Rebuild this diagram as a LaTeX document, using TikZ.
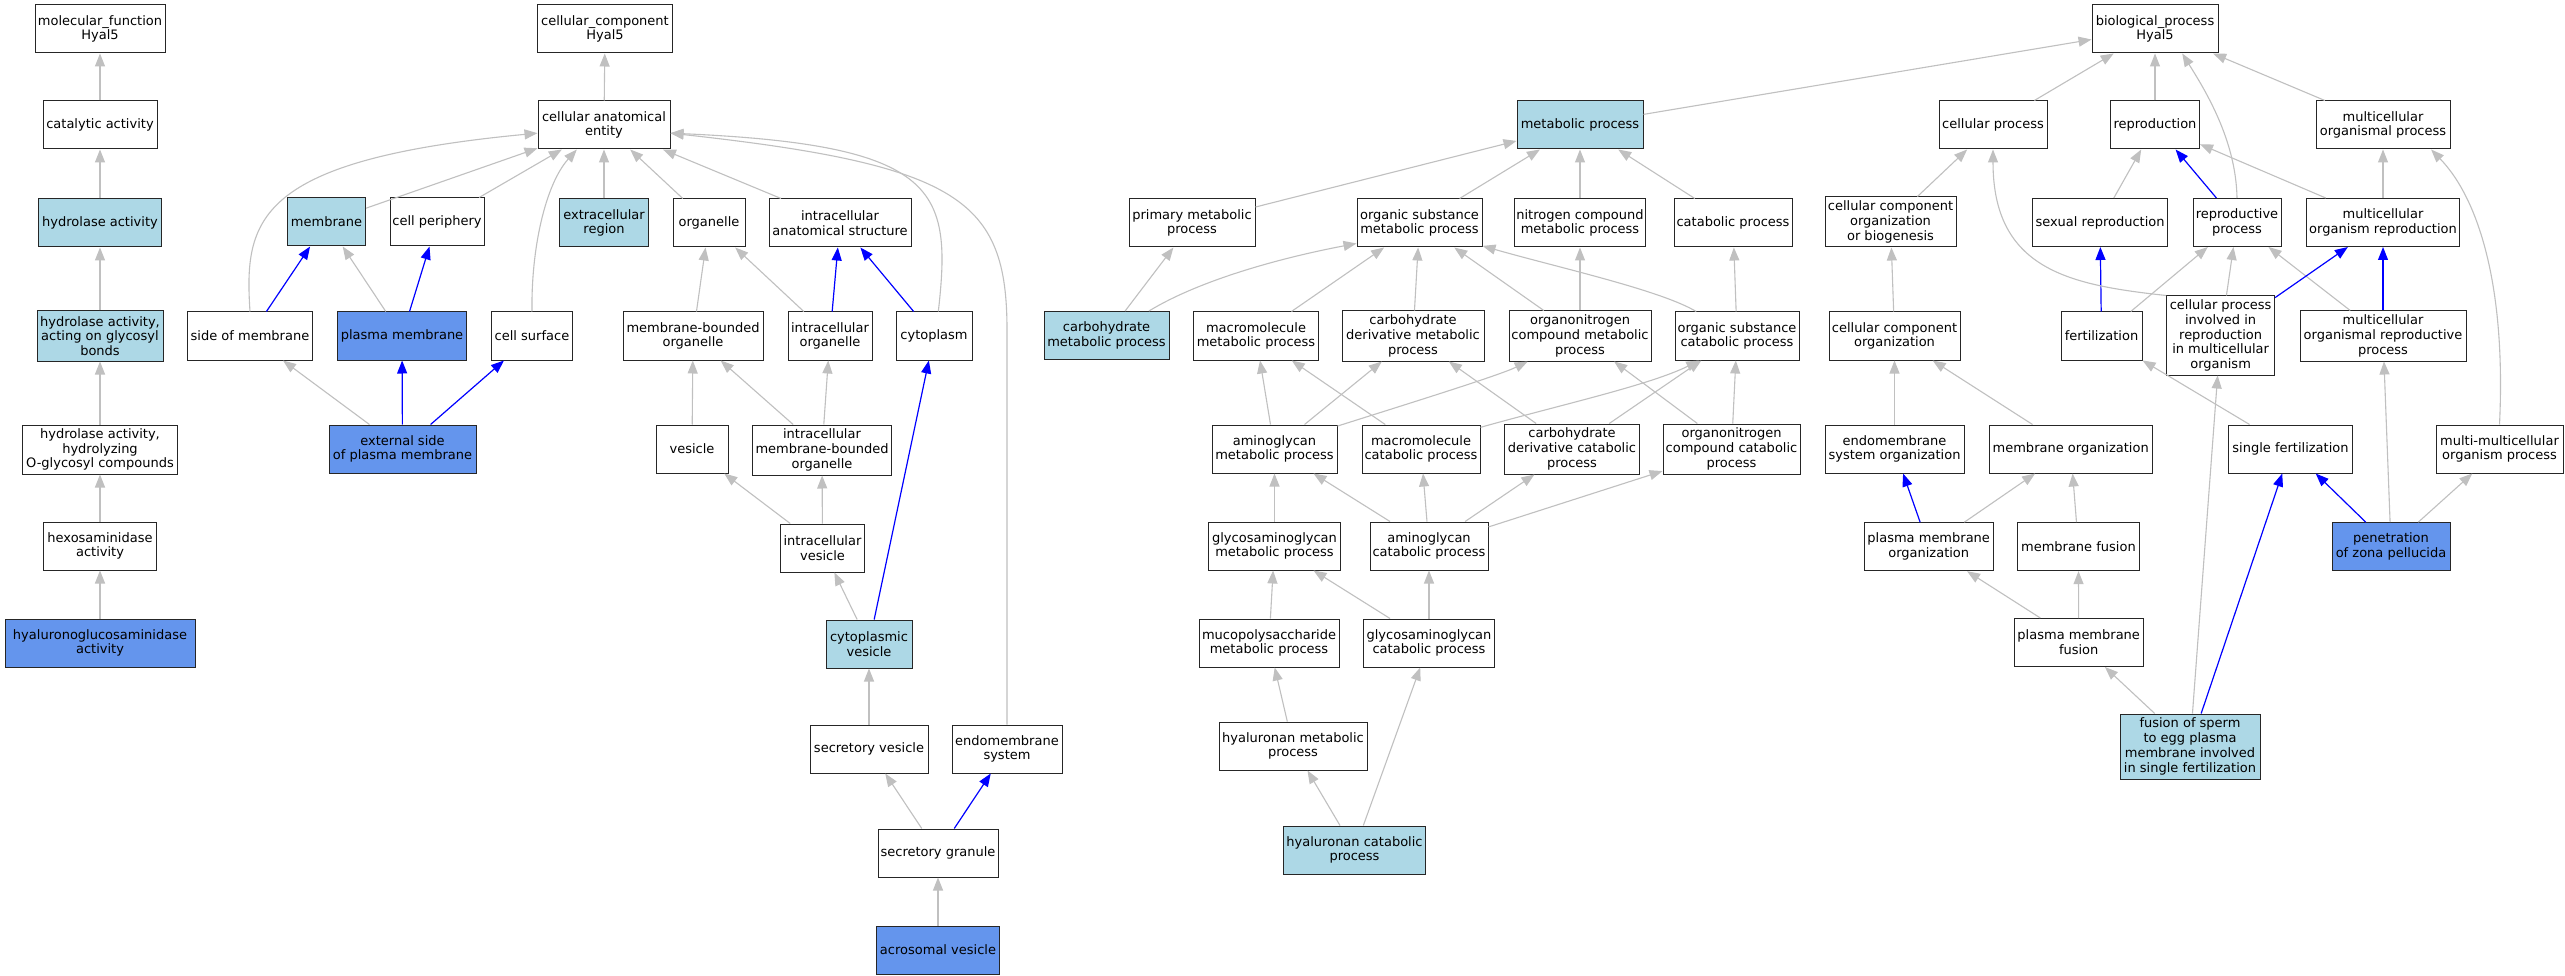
\documentclass[tikz,border=0pt]{standalone}
\usepackage{fontspec}
\setmainfont{DejaVu Sans}
\usetikzlibrary{arrows.meta}
\definecolor{edgegray}{HTML}{C0C0C0}
\definecolor{termlight}{HTML}{ADD8E6}
\definecolor{termdark}{HTML}{6495ED}
\begin{document}
\begin{tikzpicture}[x=1pt, y=-1pt, >={Triangle[length=13pt,width=10pt]},
    term/.style={draw=black!85, line width=1pt, fill=white, align=center, inner sep=1pt,
        minimum height=48, font=\fontsize{13}{14.8}\selectfont},
    lightterm/.style={term, fill=termlight},
    darkterm/.style={term, fill=termdark},
    isaedge/.style={->, draw=edgegray, line width=1.1pt},
    partedge/.style={->, draw=blue, line width=1.2pt}]
\path[fill=white] (0,0) rectangle (2565,976);
% molecular function
\node[term, minimum width=130] (mf) at (100,29) {molecular\_function\\Hyal5};
\node[term, minimum width=114] (catact) at (100,125) {catalytic activity};
\node[lightterm, minimum width=123] (hydact) at (100,223) {hydrolase activity};
\node[lightterm, minimum width=126, minimum height=50] (hydgly) at (100,336) {hydrolase activity,\\acting on glycosyl\\bonds};
\node[term, minimum width=155, minimum height=49] (hydoglc) at (100,449.5) {hydrolase activity,\\hydrolyzing\\O-glycosyl compounds};
\node[term, minimum width=113] (hexo) at (100,546) {hexosaminidase\\activity};
\node[darkterm, minimum width=190] (hyalact) at (100,643) {hyaluronoglucosaminidase\\activity};
% cellular component
\node[term, minimum width=135] (cc) at (605,29) {cellular\_component\\Hyal5};
\node[term, minimum width=132] (cae) at (604,125) {cellular anatomical\\entity};
\node[lightterm, minimum width=78] (memb) at (326.5,222) {membrane};
\node[term, minimum width=94] (cellper) at (437,222) {cell periphery};
\node[lightterm, minimum width=89] (extra) at (604,223) {extracellular\\region};
\node[term, minimum width=72] (organelle) at (709,223) {organelle};
\node[term, minimum width=142] (ias) at (840,223) {intracellular\\anatomical structure};
\node[term, minimum width=125] (sidemem) at (250,336) {side of membrane};
\node[darkterm, minimum width=129] (plasmem) at (402,336) {plasma membrane};
\node[term, minimum width=81] (cellsurf) at (532,336) {cell surface};
\node[term, minimum width=140] (mbo) at (693,336) {membrane-bounded\\organelle};
\node[term, minimum width=84] (intorg) at (830,336) {intracellular\\organelle};
\node[term, minimum width=76] (cytopl) at (934,336) {cytoplasm};
\node[darkterm, minimum width=147] (extside) at (402.5,449) {external side\\of plasma membrane};
\node[term, minimum width=72] (vesicle) at (692,449) {vesicle};
\node[term, minimum width=139, minimum height=50] (imbo) at (822,450) {intracellular\\membrane-bounded\\organelle};
\node[term, minimum width=84] (intves) at (822.5,548) {intracellular\\vesicle};
\node[lightterm, minimum width=86] (cytves) at (869,644) {cytoplasmic\\vesicle};
\node[term, minimum width=118] (secves) at (869,749) {secretory vesicle};
\node[term, minimum width=110] (endosys) at (1007,749) {endomembrane\\system};
\node[term, minimum width=120] (secgran) at (938,853) {secretory granule};
\node[darkterm, minimum width=123] (acroves) at (938,950) {acrosomal vesicle};
% biological process
\node[term, minimum width=126] (bp) at (2155,29) {biological\_process\\Hyal5};
\node[lightterm, minimum width=126] (metab) at (1580,125) {metabolic process};
\node[term, minimum width=108] (cellproc) at (1993,125) {cellular process};
\node[term, minimum width=89] (repro) at (2155,125) {reproduction};
\node[term, minimum width=134] (mcop) at (2383,125) {multicellular\\organismal process};
\node[term, minimum width=126] (primet) at (1192,223) {primary metabolic\\process};
\node[term, minimum width=125] (osmp) at (1419.5,223) {organic substance\\metabolic process};
\node[term, minimum width=131] (ncmp) at (1580,223) {nitrogen compound\\metabolic process};
\node[term, minimum width=118] (catab) at (1733,223) {catabolic process};
\node[term, minimum width=131, minimum height=50] (ccob) at (1890.5,222) {cellular component\\organization\\or biogenesis};
\node[term, minimum width=135] (sexrep) at (2100,222.5) {sexual reproduction};
\node[term, minimum width=88] (repproc) at (2237,222.5) {reproductive\\process};
\node[term, minimum width=153] (mor) at (2383,222.5) {multicellular\\organism reproduction};
\node[lightterm, minimum width=125] (carbmet) at (1106.5,335.5) {carbohydrate\\metabolic process};
\node[term, minimum width=125] (macmet) at (1256,336) {macromolecule\\metabolic process};
\node[term, minimum width=142, minimum height=50] (cdmp) at (1413,336) {carbohydrate\\derivative metabolic\\process};
\node[term, minimum width=142, minimum height=50] (oncmp) at (1580,336) {organonitrogen\\compound metabolic\\process};
\node[term, minimum width=124] (oscp) at (1737,336) {organic substance\\catabolic process};
\node[term, minimum width=131] (cco) at (1894.5,336) {cellular component\\organization};
\node[term, minimum width=81] (fert) at (2101.5,336) {fertilization};
\node[term, minimum width=108, minimum height=79] (cpir) at (2220.6,335.5) {cellular process\\involved in\\reproduction\\in multicellular\\organism};
\node[term, minimum width=166, minimum height=50] (morp) at (2383,336) {multicellular\\organismal reproductive\\process};
\node[term, minimum width=125] (amgmp) at (1274.5,449) {aminoglycan\\metabolic process};
\node[term, minimum width=118] (maccat) at (1421,449) {macromolecule\\catabolic process};
\node[term, minimum width=135, minimum height=50] (cdcp) at (1572,449) {carbohydrate\\derivative catabolic\\process};
\node[term, minimum width=137, minimum height=50] (onccp) at (1731.5,449) {organonitrogen\\compound catabolic\\process};
\node[term, minimum width=139] (esorg) at (1894.5,449) {endomembrane\\system organization};
\node[term, minimum width=163] (memorg) at (2070.7,449) {membrane organization};
\node[term, minimum width=124] (singfert) at (2290.5,449) {single fertilization};
\node[term, minimum width=127] (mmop) at (2499.5,449) {multi-multicellular\\organism process};
\node[term, minimum width=132] (gagmp) at (1274.5,546) {glycosaminoglycan\\metabolic process};
\node[term, minimum width=118] (amgcp) at (1429,546) {aminoglycan\\catabolic process};
\node[term, minimum width=129] (pmorg) at (1928.7,546.7) {plasma membrane\\organization};
\node[term, minimum width=122] (memfus) at (2078.4,546.7) {membrane fusion};
\node[darkterm, minimum width=118] (penzp) at (2391,546.7) {penetration\\of zona pellucida};
\node[term, minimum width=140] (mucmp) at (1269,643) {mucopolysaccharide\\metabolic process};
\node[term, minimum width=131] (gagcp) at (1429,643) {glycosaminoglycan\\catabolic process};
\node[term, minimum width=129] (pmfus) at (2078.7,642.5) {plasma membrane\\fusion};
\node[term, minimum width=148] (hyalmp) at (1293,746) {hyaluronan metabolic\\process};
\node[lightterm, minimum width=140, minimum height=65] (fusion) at (2190,746.5) {fusion of sperm\\to egg plasma\\membrane involved\\in single fertilization};
\node[lightterm, minimum width=142] (hyalcp) at (1354.5,850) {hyaluronan catabolic\\process};
% is_a links
\foreach \a/\b in {catact/mf, hydact/catact, hydgly/hydact, hydoglc/hydgly, hexo/hydoglc, hyalact/hexo,
    cae/cc, memb/cae, cellper/cae, extra/cae, organelle/cae, ias/cae, plasmem/memb, extside/sidemem,
    mbo/organelle, intorg/organelle, vesicle/mbo, imbo/mbo, imbo/intorg, intves/vesicle, intves/imbo,
    cytves/intves, secves/cytves, secgran/secves, acroves/secgran,
    metab/bp, cellproc/bp, repro/bp, mcop/bp, primet/metab, osmp/metab, ncmp/metab, catab/metab,
    ccob/cellproc, sexrep/repro, mor/repro, mor/mcop, carbmet/primet, macmet/osmp, cdmp/osmp,
    oncmp/osmp, oncmp/ncmp, oscp/catab, cco/ccob, fert/repproc, cpir/repproc, morp/repproc,
    amgmp/macmet, maccat/macmet, amgmp/cdmp, cdcp/cdmp, onccp/oncmp, cdcp/oscp, onccp/oscp,
    esorg/cco, memorg/cco, singfert/fert, fusion/cpir, penzp/morp, gagmp/amgmp, amgcp/amgmp,
    amgcp/maccat, amgcp/cdcp, amgcp/onccp, pmorg/memorg, memfus/memorg, penzp/mmop,
    mucmp/gagmp, gagcp/gagmp, gagcp/amgcp, pmfus/pmorg, pmfus/memfus, hyalmp/mucmp,
    hyalcp/hyalmp, hyalcp/gagcp, fusion/pmfus}
{
    \draw[isaedge] (\a) -- (\b);
}
% part_of links
\foreach \a/\b in {sidemem/memb, plasmem/cellper, extside/plasmem, extside/cellsurf, intorg/ias,
    cytopl/ias, cytves/cytopl, secgran/endosys, repproc/repro, fert/sexrep, cpir/mor, morp/mor,
    pmorg/esorg, penzp/singfert, fusion/singfert}
{
    \draw[partedge] (\a) -- (\b);
}
% curved links
\draw[isaedge] (sidemem.north) .. controls (244,220) and (255,160) .. (cae.187);
\draw[isaedge] (cellsurf.north) .. controls (531,250) and (545,185) .. (cae.222);
\draw[isaedge] (cytopl.80) .. controls (952,190) and (940,145) .. (cae.-7);
\draw[isaedge] (endosys.north) -- (1007,330) .. controls (1007,200) and (960,165) .. (cae.-7);
\draw[isaedge] (repproc.north) .. controls (2236,140) and (2205,90) .. (bp.-42);
\draw[isaedge] (cpir.north west) .. controls (2070,285) and (1993,270) .. (cellproc.south);
\draw[isaedge] (mmop.north) .. controls (2506,290) and (2480,200) .. (mcop.-27);
\draw[isaedge] (carbmet.30) .. controls (1200,280) and (1280,258) .. (osmp.198);
\draw[isaedge] (oscp.149) .. controls (1660,290) and (1560,268) .. (osmp.-20);
\draw[isaedge] (amgmp.20) .. controls (1420,400) and (1500,375) .. (oncmp.206);
\draw[isaedge] (maccat.20) .. controls (1560,405) and (1650,385) .. (oscp.213);
\end{tikzpicture}
\end{document}
